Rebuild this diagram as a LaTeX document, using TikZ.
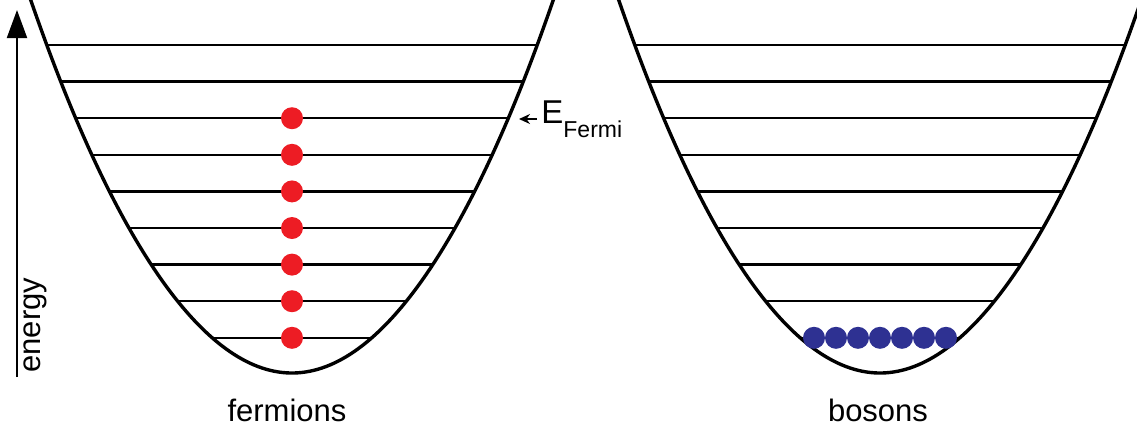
\documentclass[tikz,border=0pt]{standalone}
\usepackage{fontspec}
\setmainfont{Liberation Sans}
\usetikzlibrary{arrows.meta}
\definecolor{fermired}{RGB}{237,28,36}
\definecolor{bosonblue}{RGB}{46,49,146}

\begin{document}
\begin{tikzpicture}[
  x=0.5pt,y=-0.5pt,
  well/.style={line width=1.7pt},
  level/.style={line width=1.2pt},
  fermion/.style={circle,fill=fermired,inner sep=0pt,minimum size=11pt},
  boson/.style={circle,fill=bosonblue,inner sep=0pt,minimum size=11pt},
  lbl/.style={font=\fontsize{15.5}{18}\selectfont,inner sep=0pt},
  arrow/.style={-{Triangle[length=14pt,width=10pt]},line width=1pt},
  fermiarrow/.style={-{Stealth[length=5.5pt,width=5pt]},line width=0.9pt},
]
\useasboundingbox (0,0) rectangle (1137,430);
% wells and levels
\foreach \cx in {292,880}{
  \draw[well] (\cx-262,-2) parabola bend (\cx,373) (\cx+262,-2);
  \foreach \k in {0,...,8}{
    \pgfmathsetmacro\yy{45+36.6*\k}
    \pgfmathsetmacro\dx{13.528*sqrt(373-\yy)}
    \draw[level] (\cx-\dx,\yy) -- (\cx+\dx,\yy);
  }
}
% particles
\foreach \k [count=\i] in {2,...,8}
  \node[fermion] (f\i) at (292,{45+36.6*\k}) {};
\foreach \i in {1,...,7}
  \node[boson] (b\i) at ({880+22*(\i-4)},{45+36.6*8}) {};
% labels
\node[lbl,anchor=base] (fermions) at (287,421) {fermions};
\node[lbl,anchor=base] (bosons) at (878,421) {bosons};
\node[lbl,rotate=90,anchor=base west] (energy) at (40,373) {energy};
\coordinate (ebot) at (17,377);
\coordinate (etop) at (17,10);
\draw[arrow] (ebot) -- (etop);
\node[lbl,anchor=base west] (efermi) at (541,123)
  {\fontsize{16.5}{18}\selectfont E\raisebox{-7pt}{\fontsize{11.5}{13}\selectfont Fermi}};
\coordinate (fermiedge) at (519,119);
\draw[fermiarrow] ([xshift=-2pt]efermi.west |- fermiedge) -- (fermiedge);
\end{tikzpicture}
\end{document}
